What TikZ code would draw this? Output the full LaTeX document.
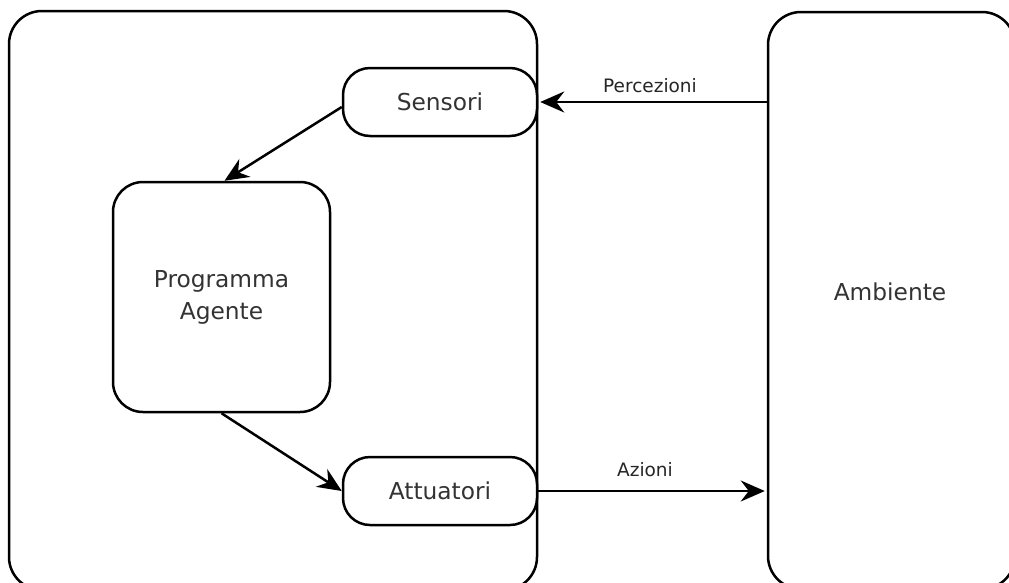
\documentclass[tikz,border=0pt]{standalone}
\usepackage{fontspec}
\setmainfont{DejaVu Sans}
\usetikzlibrary{arrows.meta}
\tikzset{
  every picture/.style={x=1pt,y=-1pt},
  box/.style={draw=black, line width=2.5pt, rectangle, inner sep=0pt, fill=white},
  bigbox/.style={box, rounded corners=33pt},
  progbox/.style={box, rounded corners=30pt, minimum width=217pt, minimum height=230pt, align=center, text=black!80, font=\fontsize{23.3}{32}\selectfont},
  capsule/.style={box, rounded corners=27pt, minimum width=194pt, minimum height=68pt, text=black!80, font=\fontsize{23.3}{26}\selectfont},
  txt/.style={text=black!80, font=\fontsize{23.3}{26}\selectfont, inner sep=0pt},
  lbl/.style={text=black!85, font=\fontsize{18.5}{20}\selectfont, inner sep=0pt},
  conn/.style={line width=2.5pt, -{Stealth[length=24pt,width=21pt,inset=8pt]}},
}
\begin{document}
\begin{tikzpicture}
\useasboundingbox (0,0) rectangle (1009,582);
\fill[white] (0,0) rectangle (1009,582);
\clip (0,0) rectangle (1009,582);
\node[bigbox, minimum width=528pt, minimum height=579pt] (agent) at (273,300.5) {};
\node[bigbox, minimum width=247pt, minimum height=577pt] (amb) at (891.5,300.5) {};
\node[txt] (ambt) at (890,292) {Ambiente};
\node[progbox] (prog) at (221.5,297) {Programma\\Agente};
\node[capsule] (sens) at (440,102) {Sensori};
\node[capsule] (att) at (440,491) {Attuatori};
\draw[conn] ([yshift=-5pt]sens.west) -- ([xshift=3pt]prog.north);
\draw[conn] (prog.south) -- (att.west);
\draw[conn] (amb.west |- sens.east) -- ([xshift=2pt]sens.east);
\draw[conn] (att.east) -- ([xshift=-2pt]amb.west |- att.east);
\node[lbl] (perc) at (650,86) {Percezioni};
\node[lbl] (azi) at (645,470) {Azioni};
\end{tikzpicture}
\end{document}
